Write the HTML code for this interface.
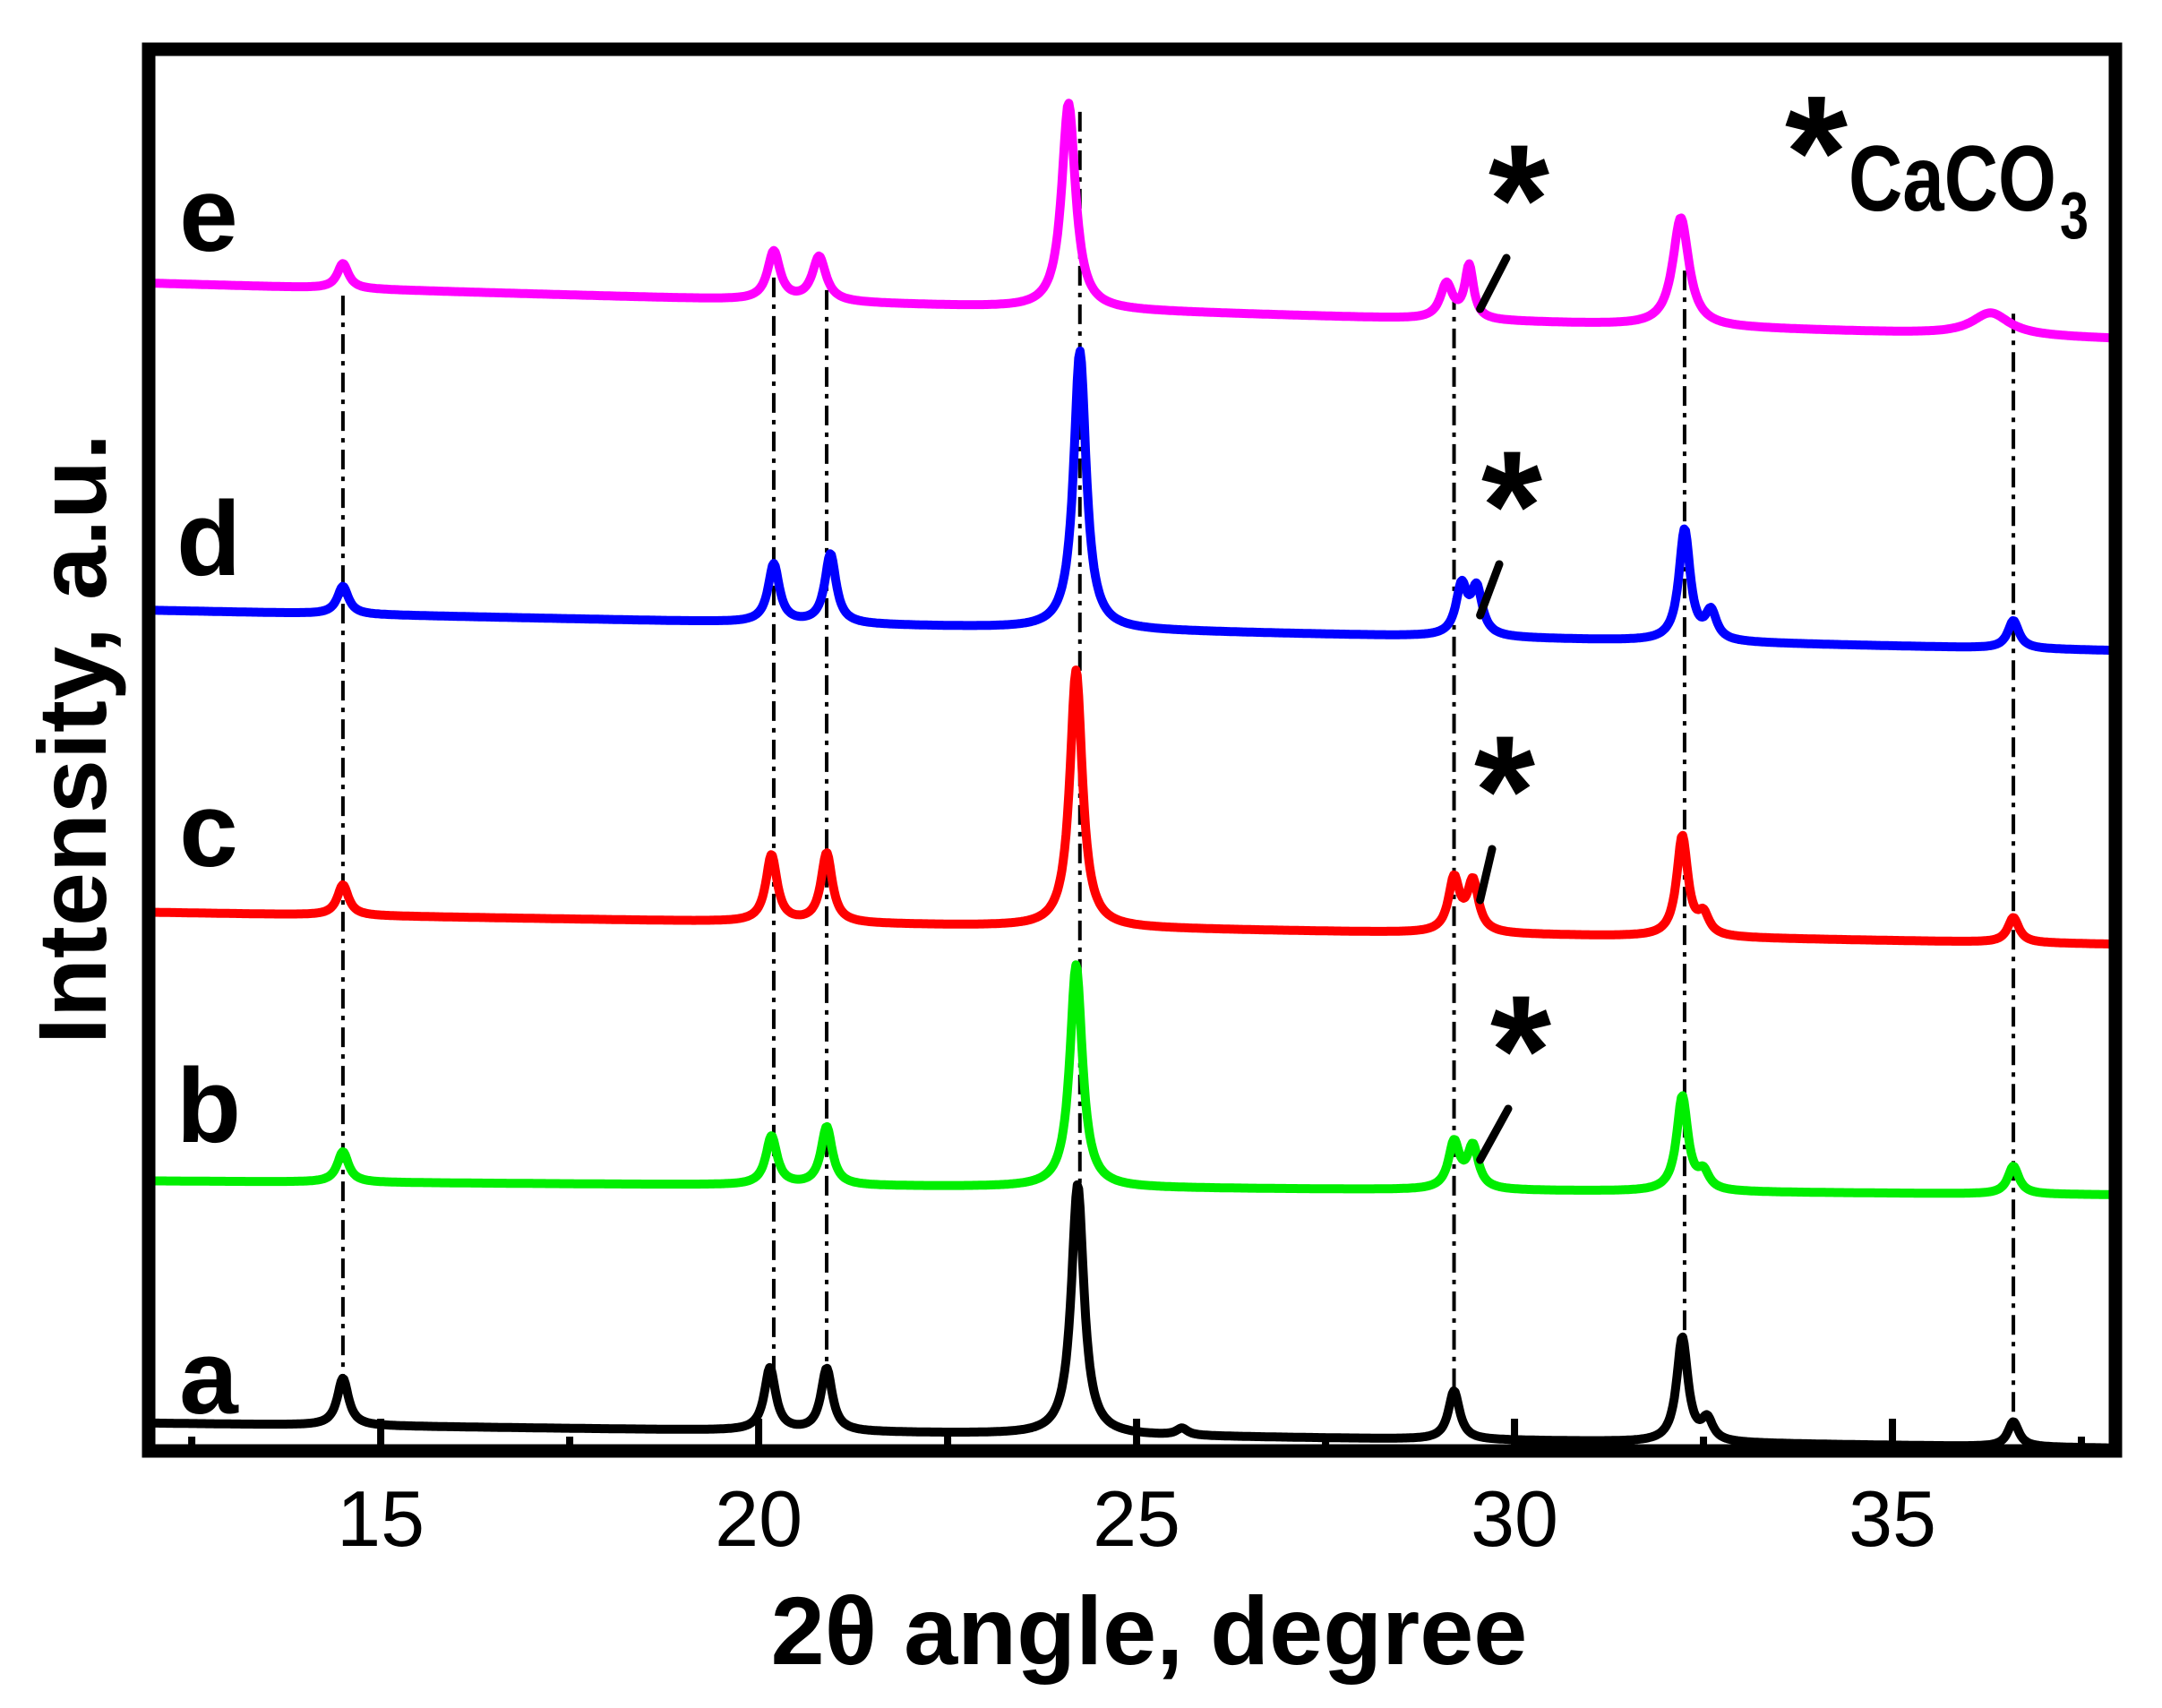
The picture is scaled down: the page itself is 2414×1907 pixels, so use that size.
<!DOCTYPE html>
<html><head><meta charset="utf-8"><style>
html,body{margin:0;padding:0;background:#fff;}
svg{display:block;font-family:"Liberation Sans",Arial,sans-serif;}
</style></head><body>
<svg id="chart" width="2414" height="1907" viewBox="0 0 2414 1907" xmlns="http://www.w3.org/2000/svg">
<g id="plot"></g>
<rect x="166" y="55" width="2196" height="1565" fill="none" stroke="#000" stroke-width="15"/>
<g id="ticks"></g>
<text x="1283" y="1858" font-size="108" font-weight="bold" text-anchor="middle">2θ angle, degree</text>
<text transform="translate(118,825) rotate(-90)" font-size="108" font-weight="bold" text-anchor="middle">Intensity, a.u.</text>
<g>
<text x="2028" y="232" font-size="180" font-weight="bold" text-anchor="middle">*</text>
<text x="2064" y="235" font-size="104" font-weight="bold" textLength="232" lengthAdjust="spacingAndGlyphs">CaCO</text>
<text x="2300" y="266" font-size="74" font-weight="bold" textLength="32" lengthAdjust="spacingAndGlyphs">3</text>
</g>
</svg>
<script>
const xMin = 11.93, xMax = 37.95;
const yMin = 0, yMax = 1007;
const seriesNames = ["a","b","c","d","e"];
const seriesColors = ["#000000","#00ee00","#ff0000","#0000ff","#ff00ff"];
const baseStart = [20, 194, 387, 604, 839];
const baseEnd = [2, 184, 364, 575, 799];
const peaksA_pos = [14.5, 20.15, 20.9, 24.22, 25.6, 29.2, 32.22, 32.55, 36.6];
const peaksA_h   = [34, 45, 45, 180, 5, 35, 75, 15, 18];
const peaksB_pos = [14.5, 20.17, 20.9, 24.2, 29.2, 29.45, 32.22, 32.5, 36.6];
const peaksB_h   = [22, 35, 42, 160, 33, 30, 68, 12, 20];
const peaksC_pos = [14.5, 20.17, 20.9, 24.2, 29.2, 29.45, 32.22, 32.5, 36.6];
const peaksC_h   = [22, 48, 50, 185, 38, 36, 72, 14, 18];
const peaksD_pos = [14.5, 20.2, 20.95, 24.25, 29.3, 29.5, 32.25, 32.6, 36.6];
const peaksD_h   = [20, 42, 50, 200, 35, 33, 80, 20, 20];
const peaksE_pos = [14.5, 20.2, 20.8, 24.1, 29.1, 29.4, 32.2, 36.3];
const peaksE_h   = [18, 35, 32, 148, 25, 38, 78, 16];
const peaksE_w   = [0.09, 0.1, 0.11, 0.11, 0.1, 0.07, 0.13, 0.3];
const refLines = [14.5, 20.2, 20.9, 24.25, 29.2, 32.25, 36.6];
const refTop = [830, 843, 834, 962, 834, 848, 817];
const refBottom = [38, 50, 50, 180, 38, 78, 20];
const xTicks = [15, 20, 25, 30, 35];
const xMinorTicks = [12.5, 17.5, 22.5, 27.5, 32.5, 37.5];
const letterY = [1578, 1275, 967, 642, 280];
const starX = [null, 1698, 1680, 1688, 1696];
const starY = [null, 1233, 943, 625, 283];

const X0 = 166, X1 = 2362, Y0 = 1620, Y1 = 55;
function xs(v){ return X0 + (v - xMin) / (xMax - xMin) * (X1 - X0); }
function ys(v){ return Y0 - (v - yMin) / (yMax - yMin) * (Y0 - Y1); }
const NS = "http://www.w3.org/2000/svg";
const plot = document.getElementById("plot");
const ticks = document.getElementById("ticks");

const peakPos = [peaksA_pos, peaksB_pos, peaksC_pos, peaksD_pos, peaksE_pos];
const peakH = [peaksA_h, peaksB_h, peaksC_h, peaksD_h, peaksE_h];

refLines.forEach((p, i) => {
  const l = document.createElementNS(NS, "line");
  
  
  l.setAttribute("x1", xs(p)); l.setAttribute("x2", xs(p));
  l.setAttribute("y1", ys(refTop[i])); l.setAttribute("y2", ys(refBottom[i]));
  l.setAttribute("stroke", "#000"); l.setAttribute("stroke-width", "4");
  l.setAttribute("stroke-dasharray", "22 8 5 8");
  plot.appendChild(l);
});

seriesNames.forEach((name, si) => {
  const pos = peakPos[si], hs = peakH[si];
  let d = "";
  const N = 1400;
  for (let k = 0; k <= N; k++) {
    const x = xMin + (xMax - xMin) * k / N;
    let y = baseStart[si] + (baseEnd[si] - baseStart[si]) * (x - xMin) / (xMax - xMin);
    for (let j = 0; j < pos.length; j++) {
      const w = si === 4 ? peaksE_w[j] : (j === 3 ? 0.1 : 0.09);
      const t = (x - pos[j]) / w;
      y += hs[j] / (1 + t * t);
    }
    d += (k ? "L" : "M") + xs(x).toFixed(1) + "," + ys(y).toFixed(1);
  }
  const p = document.createElementNS(NS, "path");
  
  
  p.setAttribute("d", d);
  p.setAttribute("fill", "none");
  p.setAttribute("stroke", seriesColors[si]);
  p.setAttribute("stroke-width", "10");
  p.setAttribute("stroke-linejoin", "round");
  plot.appendChild(p);

  const t = document.createElementNS(NS, "text");
  
  
  t.setAttribute("x", 233); t.setAttribute("y", letterY[si]);
  t.setAttribute("font-size", "118"); t.setAttribute("font-weight", "bold");
  t.setAttribute("text-anchor", "middle");
  t.textContent = name;
  plot.appendChild(t);

  if (starX[si] !== null) {
    const s = document.createElementNS(NS, "text");
    
    
    s.setAttribute("x", starX[si]); s.setAttribute("y", starY[si]);
    s.setAttribute("font-size", "175"); s.setAttribute("font-weight", "bold");
    s.setAttribute("text-anchor", "middle");
    s.textContent = "*";
    plot.appendChild(s);
    const l = document.createElementNS(NS, "line");
    
    
    const px = xs(29.45);
    l.setAttribute("x1", starX[si] - 14); l.setAttribute("y1", starY[si] + 5);
    l.setAttribute("x2", px + 8); l.setAttribute("y2", starY[si] + 62);
    l.setAttribute("stroke", "#000"); l.setAttribute("stroke-width", "9");
    l.setAttribute("stroke-linecap", "round");
    plot.appendChild(l);
  }
});

xTicks.forEach(v => {
  const l = document.createElementNS(NS, "line");
  
  
  l.setAttribute("x1", xs(v)); l.setAttribute("x2", xs(v));
  l.setAttribute("y1", Y0); l.setAttribute("y2", Y0 - 36);
  l.setAttribute("stroke", "#000"); l.setAttribute("stroke-width", "8");
  ticks.appendChild(l);
  const t = document.createElementNS(NS, "text");
  
  
  t.setAttribute("x", xs(v)); t.setAttribute("y", 1726);
  t.setAttribute("font-size", "88"); t.setAttribute("text-anchor", "middle");
  t.textContent = v;
  ticks.appendChild(t);
});
xMinorTicks.forEach(v => {
  const l = document.createElementNS(NS, "line");
  
  
  l.setAttribute("x1", xs(v)); l.setAttribute("x2", xs(v));
  l.setAttribute("y1", Y0); l.setAttribute("y2", Y0 - 16);
  l.setAttribute("stroke", "#000"); l.setAttribute("stroke-width", "8");
  ticks.appendChild(l);
});
</script>
</body></html>
